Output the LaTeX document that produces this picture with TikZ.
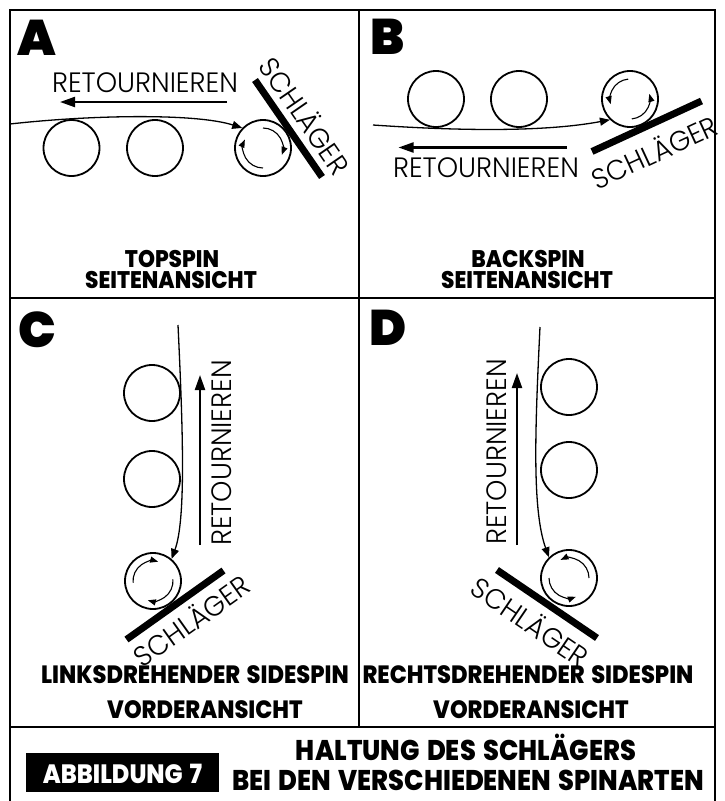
\documentclass[tikz,border=0pt]{standalone}
\usepackage{fontspec}
\usetikzlibrary{arrows.meta,calc}
\setmainfont{Poppins}
\IfFontExistsTF{Poppins Light}{\newfontfamily\thinfont[FakeStretch=0.97]{Poppins Light}}{\newfontfamily\thinfont[FakeStretch=0.97]{Poppins}}
\IfFontExistsTF{Poppins Black}{\newfontfamily\heavyfont{Poppins Black}}{\newcommand\heavyfont{\bfseries}}
\IfFontExistsTF{Poppins ExtraBold}{\newfontfamily\labfont[FakeStretch=0.9,WordSpace=1.5]{Poppins ExtraBold}\newcommand\labweight{}}{\newfontfamily\labfont[FakeStretch=0.9,WordSpace=1.5]{Poppins}\newcommand\labweight{\bfseries}}
\begin{document}
\begin{tikzpicture}[x=1pt,y=1pt,
    ball/.style={circle,draw,line width=1.8pt,minimum size=56pt,inner sep=0pt},
    flight/.style={line width=1.3pt,-{Triangle[length=10pt,width=8pt]}},
    retour/.style={line width=2.2pt,-{Triangle[length=15pt,width=10pt]}},
    spin/.style={line width=1.1pt,-{Triangle[length=8pt,width=6pt]}},
    racket/.style={line width=7pt},
    frame/.style={line width=2.2pt},
    ret/.style={font=\thinfont\fontsize{28}{28}\selectfont,inner sep=0pt},
    caption/.style={font=\labfont\labweight\fontsize{24}{24}\selectfont,inner sep=0pt,anchor=base},
    bigcaption/.style={caption,font=\labfont\labweight\fontsize{25}{25}\selectfont},
    title/.style={font=\labfont\labweight\fontsize{28.5}{28.5}\selectfont,inner sep=0pt,anchor=base},
    letter/.style={font=\heavyfont\fontsize{50}{50}\selectfont,inner sep=0pt,anchor=base}]
    \useasboundingbox (0,0) rectangle (724,-801);

    \draw[frame] (10,-801) -- (10,-10) -- (715,-10) -- (715,-801);
    \draw[frame] (10,-298) -- (715,-298);
    \draw[frame] (10,-727) -- (715,-727);
    \draw[frame] (359,-10) -- (359,-727);

    \node[letter] (la) at (36.5,-55) {A};
    \node[letter] (lb) at (388,-54) {B};
    \node[letter] (lc) at (37,-347) {C};
    \node[letter] (ld) at (388,-345) {D};

    \node[ball] (a1) at (71.5,-148) {};
    \node[ball] (a2) at (155,-148) {};
    \node[ball] (a3) at (263,-148) {};
    \coordinate (a0) at (10,-124);
    \draw[flight] (a0) .. controls (90,-115) and (195,-113) .. (a3.136);
    \coordinate (ar1) at (227,-102);
    \coordinate (ar2) at (60,-102);
    \draw[retour] (ar1) -- (ar2);
    \node[ret,anchor=base] (at) at (145,-92) {RETOURNIEREN};
    \draw[racket] (255,-80) -- (322,-177);
    \node[ret,rotate=-55.4] (as) at (306,-115) {SCHLÄGER};
    \draw[spin] ($(a3)+(270:20)$) arc[start angle=270,end angle=155,radius=20];
    \draw[spin] ($(a3)+(90:20)$) arc[start angle=90,end angle=-20,radius=20];
    \node[caption] (ac1) at (172,-267) {TOPSPIN};
    \node[caption] (ac2) at (171,-288) {SEITENANSICHT};

    \node[ball] (b1) at (436,-99) {};
    \node[ball] (b2) at (519,-99) {};
    \node[ball] (b3) at (630,-99) {};
    \coordinate (b0) at (373,-125);
    \draw[flight] (b0) .. controls (460,-131) and (545,-132) .. (b3.226);
    \coordinate (br1) at (567,-147.5);
    \coordinate (br2) at (398.5,-147.5);
    \draw[retour] (br1) -- (br2);
    \node[ret,anchor=base] (bt) at (486,-177) {RETOURNIEREN};
    \draw[racket] (592,-151.5) -- (701.5,-101);
    \node[ret,rotate=24.8] (bs) at (654,-151) {SCHLÄGER};
    \draw[spin] ($(b3)+(95:20)$) arc[start angle=95,end angle=195,radius=20];
    \draw[spin] ($(b3)+(-85:20)$) arc[start angle=-85,end angle=15,radius=20];
    \node[caption] (bc1) at (528,-267) {BACKSPIN};
    \node[caption] (bc2) at (527,-288) {SEITENANSICHT};

    \node[ball] (c1) at (152,-393) {};
    \node[ball] (c2) at (152,-479) {};
    \node[ball] (c3) at (153,-581) {};
    \coordinate (c0) at (178,-325);
    \draw[flight] (c0) .. controls (183,-430) and (186,-520) .. (c3.50);
    \coordinate (cr1) at (200,-545);
    \coordinate (cr2) at (200,-375);
    \draw[retour] (cr1) -- (cr2);
    \node[ret,rotate=90] (ct) at (222,-453) {RETOURNIEREN};
    \draw[racket] (126.5,-639.5) -- (223.5,-570.5);
    \node[ret,rotate=35.4] (cs) at (191,-620) {SCHLÄGER};
    \draw[spin] ($(c3)+(185:20)$) arc[start angle=185,end angle=75,radius=20];
    \draw[spin] ($(c3)+(5:20)$) arc[start angle=5,end angle=-105,radius=20];
    \node[bigcaption] (cc1) at (195,-683) {LINKSDREHENDER SIDESPIN};
    \node[bigcaption] (cc2) at (205,-718) {VORDERANSICHT};

    \node[ball] (d1) at (569,-387) {};
    \node[ball] (d2) at (569,-470) {};
    \node[ball] (d3) at (569,-578) {};
    \coordinate (d0) at (540,-327);
    \draw[flight] (d0) .. controls (535,-430) and (532,-510) .. (d3.134);
    \coordinate (dr1) at (517,-545);
    \coordinate (dr2) at (517,-373);
    \draw[retour] (dr1) -- (dr2);
    \node[ret,rotate=90] (dt) at (497,-452) {RETOURNIEREN};
    \draw[racket] (497,-570) -- (597,-638);
    \node[ret,rotate=-34.2] (ds) at (531,-621) {SCHLÄGER};
    \draw[spin] ($(d3)+(0:20)$) arc[start angle=0,end angle=115,radius=20];
    \draw[spin] ($(d3)+(180:20)$) arc[start angle=180,end angle=290,radius=20];
    \node[bigcaption] (dc1) at (528,-683) {RECHTSDREHENDER SIDESPIN};
    \node[bigcaption] (dc2) at (531,-718) {VORDERANSICHT};

    \node[fill=black,minimum width=193pt,minimum height=39pt,inner sep=0pt] (fig) at (122.5,-772.5) {};
    \node[title,text=white,font=\labfont\labweight\fontsize{26.5}{26.5}\selectfont] (fign) at (122.5,-783) {ABBILDUNG 7};
    \node[title] (t1) at (466,-760) {HALTUNG DES SCHLÄGERS};
    \node[title] (t2) at (468,-790) {BEI DEN VERSCHIEDENEN SPINARTEN};
\end{tikzpicture}
\end{document}
